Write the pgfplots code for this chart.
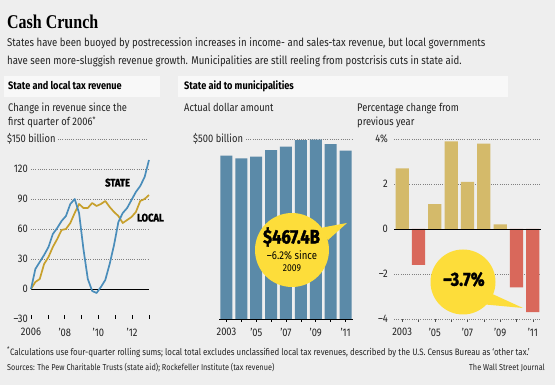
\documentclass[border=0pt]{standalone}
\usepackage{fontspec}
\usepackage{pgfplots}
\pgfplotsset{compat=1.18}
\setmainfont[FakeStretch=0.85]{Fira Sans}
\newfontfamily\heavyfont[FakeStretch=0.85, BoldFeatures={FakeBold=1.6}]{Fira Sans}
\newfontfamily\titlefont[FakeStretch=0.82]{Liberation Serif}
\definecolor{bg}{HTML}{EEEEEE}
\definecolor{hdr}{HTML}{F8F8F8}
\definecolor{stateblue}{HTML}{4A8DBA}
\definecolor{localgold}{HTML}{C7A02C}
\definecolor{barblue}{HTML}{5B8AA8}
\definecolor{posgold}{HTML}{D4BA6A}
\definecolor{negred}{HTML}{D9685B}
\definecolor{bubble}{HTML}{FDDD3A}
\definecolor{txt}{HTML}{222222}
\newcommand\tickfont{\fontsize{11}{11}\selectfont}
\tikzset{gridl/.style={black!50, line width=0.6pt, dash pattern=on 0.6pt off 1.6pt}}
\pgfplotstableread{
x state local
2006.000 0 0
2006.259 20 7
2006.519 27 10
2006.778 34 25
2007.037 42 32
2007.296 55 42
2007.556 61 50
2007.815 68 59
2008.074 73 60
2008.333 85 66
2008.593 90 76
2008.852 76 85
2009.111 40 81
2009.370 10 81
2009.630 -2 86
2009.889 -4 83
2010.148 2 85
2010.407 9 88
2010.667 25 82
2010.926 44 77
2011.185 67 73
2011.444 76 66
2011.704 81 69
2011.963 89 72
2012.222 97 77
2012.481 103 88
2012.741 112 90
2013.000 129 94
}\revenue
\pgfplotstableread{
x aid
0 454
1 446
2 451
3 469
4 479
5 497
6 498
7 486
8 467.4
}\aid
\begin{document}
\begin{tikzpicture}[x=1pt,y=1pt]
\path[use as bounding box, fill=bg] (0,0) rectangle (555,385);
% title and subtitle
\node[anchor=base west, inner sep=0] at (7,356.7) {\titlefont\bfseries\fontsize{19.5}{20}\selectfont Cash Crunch};
\node[anchor=base west, inner sep=0, text=txt] at (7,338.3) {\fontsize{11.3}{12}\selectfont States have been buoyed by postrecession increases in income- and sales-tax revenue, but local governments};
\node[anchor=base west, inner sep=0, text=txt] at (7,320.3) {\fontsize{11.3}{12}\selectfont have seen more-sluggish revenue growth. Municipalities are still reeling from postcrisis cuts in state aid.};
% section headers
\fill[hdr] (4,288) rectangle (160,309);
\fill[hdr] (178,288) rectangle (508,309);
\node[anchor=base west, inner sep=0] at (8,295.7) {\fontsize{10.8}{12}\selectfont\bfseries State and local tax revenue};
\node[anchor=base west, inner sep=0] at (184,295.7) {\fontsize{10.8}{12}\selectfont\bfseries State aid to municipalities};
% subheads
\node[anchor=base west, inner sep=0, text=txt] at (8,273.3) {\fontsize{11}{12}\selectfont Change in revenue since the};
\node[anchor=base west, inner sep=0, text=txt] at (8,259) {\fontsize{11}{12}\selectfont first quarter of 2006\textsuperscript{*}};
\node[anchor=base west, inner sep=0, text=txt] at (184,273.3) {\fontsize{11}{12}\selectfont Actual dollar amount};
\node[anchor=base west, inner sep=0, text=txt] at (357,273.3) {\fontsize{11}{12}\selectfont Percentage change from};
\node[anchor=base west, inner sep=0, text=txt] at (357,259) {\fontsize{11}{12}\selectfont previous year};
% left panel
\node[anchor=base west, inner sep=0, text=txt] at (7,242.3) {\tickfont\$150 billion};
\draw[gridl] (58,246) -- (148,246);
\begin{axis}[
  at={(31pt,66pt)}, anchor=south west, scale only axis, width=118pt, height=180pt,
  xmin=2006, xmax=2013, ymin=-30, ymax=150,
  axis line style={draw=none}, clip=false,
  xtick={2006,...,2013}, xticklabels={2006,,’08,,’10,,’12,},
  minor x tick num=3, xtick pos=bottom, tick align=inside,
  major tick length=4pt, minor tick length=2.2pt,
  xtick style={black, line width=0.6pt}, minor tick style={black, line width=0.5pt},
  ytick={-30,0,30,60,90,120}, yticklabels={–30,0,30,60,90,120},
  ytick style={draw=none},
  tick label style={font=\tickfont, text=txt},
  yticklabel style={anchor=east, inner sep=0pt, xshift=-3pt},
  xticklabel style={anchor=north, inner sep=0pt, yshift=-9pt},
]
\foreach \v in {30,60,90,120}{\edef\tmp{\noexpand\draw[gridl] (axis cs:2006,\v) -- (axis cs:2013,\v);}\tmp}
\draw[black, line width=0.9pt] (axis cs:2006,0) -- (axis cs:2013,0);
\addplot[localgold, line width=1.7pt, line join=round] table[x=x, y=local] {\revenue};
\addplot[stateblue, line width=1.7pt, line join=round] table[x=x, y=state] {\revenue};
\end{axis}
\node[anchor=base west, inner sep=0] at (105,198.5) {\heavyfont\fontsize{11}{11}\selectfont\bfseries STATE};
\node[anchor=base west, inner sep=0] at (137,163.5) {\heavyfont\fontsize{11}{11}\selectfont\bfseries LOCAL};
% middle panel
\node[anchor=base west, inner sep=0, text=txt] at (193,242.3) {\tickfont\$500 billion};
\draw[gridl] (246,246) -- (353,246);
\begin{axis}[
  at={(219pt,66pt)}, anchor=south west, scale only axis, width=134pt, height=180pt,
  xmin=-0.5, xmax=8.5, ymin=0, ymax=500, clip=false,
  axis y line=none, axis x line*=bottom, axis line style={black, line width=0.8pt, -},
  xtick={0,...,8}, xticklabels={2003,,’05,,’07,,’09,,’11},
  tick align=outside, major tick length=3pt,
  xtick style={black, line width=0.6pt},
  ytick={0,100,200,300,400}, yticklabels={0,100,200,300,400},
  tick label style={font=\tickfont, text=txt},
  yticklabel style={anchor=east, inner sep=0pt, xshift=-5pt},
  xticklabel style={anchor=north, inner sep=0pt, yshift=-6pt},
]
\addplot[ybar, bar width=12pt, bar shift=0pt, fill=barblue, draw=none] table[x=x, y=aid] {\aid};
\end{axis}
% right panel
\begin{axis}[
  at={(394pt,66pt)}, anchor=south west, scale only axis, width=147pt, height=180pt,
  xmin=-0.5, xmax=8.5, ymin=-4, ymax=4, clip=false,
  axis line style={draw=none},
  xtick={0,...,8}, xticklabels={2003,,’05,,’07,,’09,,’11}, xtick pos=bottom,
  tick align=outside, major tick length=3pt,
  xtick style={black!70, line width=0.6pt},
  ytick={-4,-2,0,2,4}, yticklabels={–4,–2,0,2,4\%}, ytick style={draw=none},
  tick label style={font=\tickfont, text=txt},
  yticklabel style={anchor=east, inner sep=0pt, xshift=-3pt},
  xticklabel style={anchor=north, inner sep=0pt, yshift=-6pt},
]
\foreach \v in {-4,-2,2,4}{\edef\tmp{\noexpand\draw[gridl] (axis cs:-0.5,\v) -- (axis cs:8.5,\v);}\tmp}
\addplot[ybar, bar width=13.3pt, bar shift=0pt, fill=posgold, draw=none] coordinates {(0,2.7) (2,1.1) (3,3.9) (4,2.1) (5,3.8) (6,0.2)};
\addplot[ybar, bar width=13.3pt, bar shift=0pt, fill=negred, draw=none] coordinates {(1,-1.6) (7,-2.6) (8,-3.7)};
\draw[black, line width=0.9pt] (axis cs:-0.5,0) -- (axis cs:8.5,0);
\end{axis}
% bubbles
\fill[bubble] (292,135) circle (37);
\fill[bubble] (320,157) -- (347,162) -- (328,145) -- cycle;
\node[inner sep=0] at (291.5,148) {\heavyfont\fontsize{19.5}{20}\selectfont\bfseries \$467.4B};
\node[inner sep=0, align=center] at (292,124) {\fontsize{11.3}{12.5}\selectfont –6.2\% since\\2009};
\fill[bubble] (463,103) circle (32.5);
\fill[bubble] (488,93) -- (523,77) -- (480,81) -- cycle;
\node[inner sep=0] at (464,105.7) {\heavyfont\fontsize{19}{20}\selectfont\bfseries –3.7\%};
% footer
\node[anchor=base west, inner sep=0, text=txt] at (7,29.5) {\fontsize{9.3}{10}\selectfont\textsuperscript{*}Calculations use four-quarter rolling sums; local total excludes unclassified local tax revenues, described by the U.S. Census Bureau as ‘other tax.’};
\node[anchor=base west, inner sep=0, text=txt] at (7,14) {\fontsize{8.6}{10}\selectfont Sources: The Pew Charitable Trusts (state aid); Rockefeller Institute (tax revenue)};
\node[anchor=base east, inner sep=0, text=txt] at (545,14) {\fontsize{8.6}{10}\selectfont The Wall Street Journal};
\end{tikzpicture}
\end{document}
